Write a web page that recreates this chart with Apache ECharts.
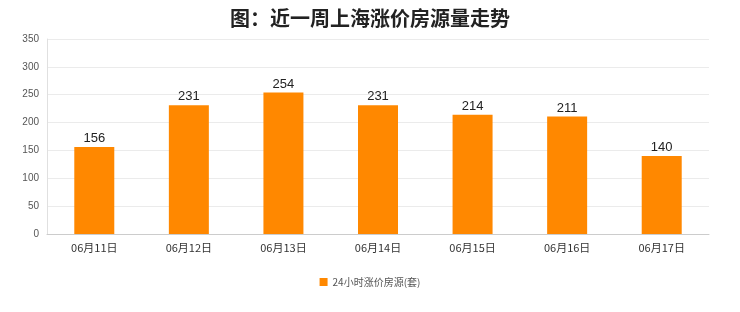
<!DOCTYPE html>
<html><head><meta charset="utf-8">
<script src="https://cdn.jsdelivr.net/npm/echarts@6/dist/echarts.min.js"></script>
<style>html,body{margin:0;padding:0;background:#fff}#c{width:740px;height:312px}</style>
</head><body><div id="c"></div>
<script>
var categories = ['06月11日','06月12日','06月13日','06月14日','06月15日','06月16日','06月17日'];
var values = [156, 231, 254, 231, 214, 211, 140];
var seriesName = '24小时涨价房源(套)';
var titleText = '图：近一周上海涨价房源量走势';

var chart = echarts.init(document.getElementById('c'));
chart.setOption({
  animation: false,
  backgroundColor: '#fff',
  title: { text: titleText, left: 'center', top: 3,
    textStyle: { fontSize: 20, fontWeight: 'bold', color: '#222', fontFamily: 'Noto Sans CJK SC' } },
  legend: { bottom: 20, left: 'center', itemWidth: 8, itemHeight: 8, icon: 'rect',
    textStyle: { fontSize: 10, color: '#555', fontFamily: 'Noto Sans CJK SC' },
    data: [seriesName] },
  grid: { left: 47, right: 31, top: 39, bottom: 78 },
  xAxis: { type: 'category', data: categories,
    axisLine: { lineStyle: { color: '#ccc' } }, axisTick: { show: false },
    axisLabel: { fontSize: 11, color: '#333', margin: 8, fontFamily: 'Noto Sans CJK SC' } },
  yAxis: { type: 'value', min: 0, max: 350, interval: 50,
    axisLine: { show: true, lineStyle: { color: '#e0e0e0' } }, axisTick: { show: false },
    splitLine: { lineStyle: { color: '#ebebeb' } },
    axisLabel: { fontSize: 10, color: '#555', margin: 8 } },
  series: [{ name: seriesName, type: 'bar', data: values, barWidth: 40,
    itemStyle: { color: '#ff8800' },
    label: { show: true, position: 'top', fontSize: 13, color: '#222', distance: 2 } }]
});
</script></body></html>
